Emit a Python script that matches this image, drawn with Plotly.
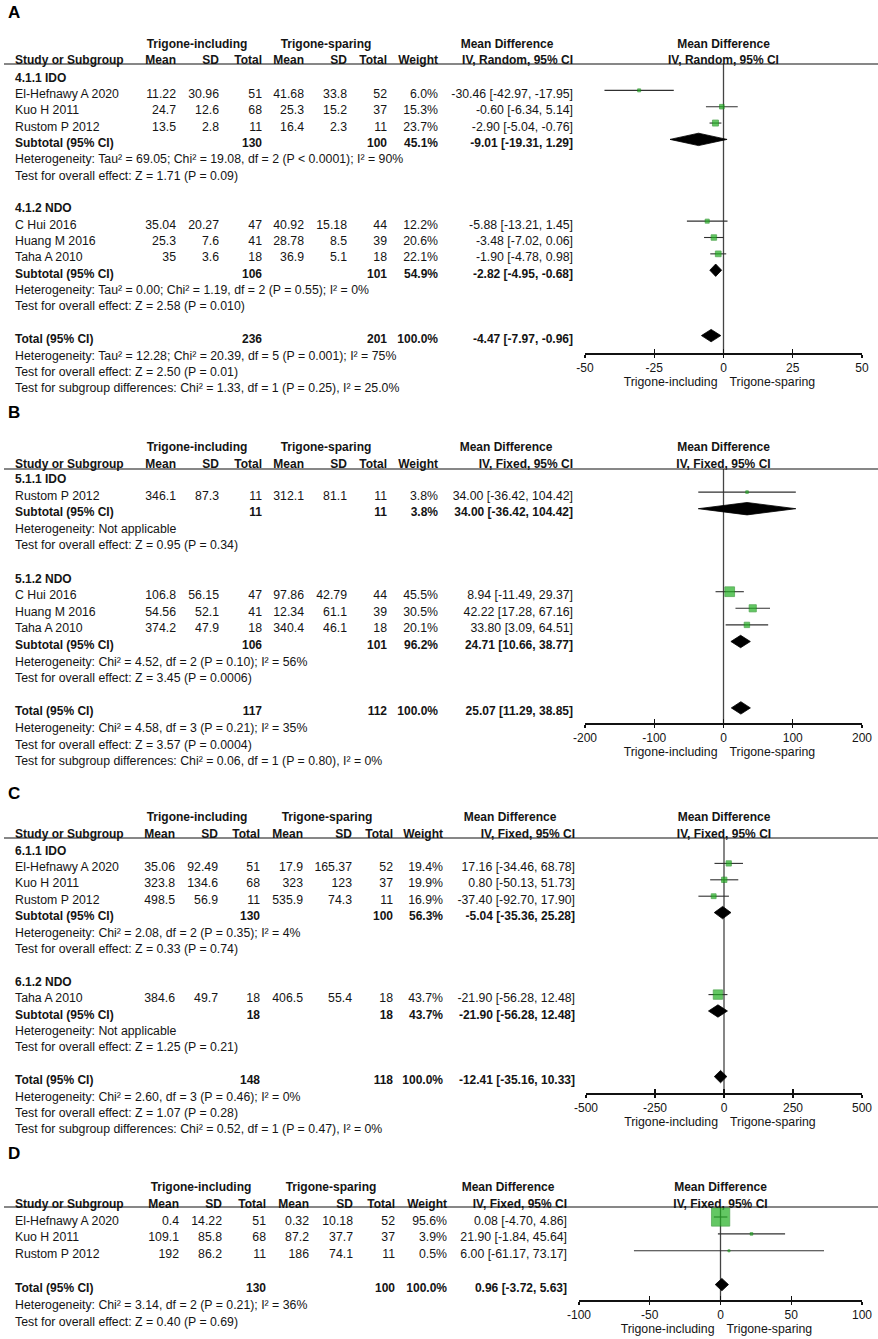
import plotly.graph_objects as go

W, H = 878, 1339
FONT = "Liberation Sans, Arial, Helvetica, sans-serif"
TXT = "#141414"
GREEN = "#22b022"
GREEN_EDGE = "#138813"
TEXT_DY = 2.0  # vertical nudge for text baseline alignment

# ================= DATA =================
# ---- Panel A ----
A_groups = ["4.1.1 IDO", "4.1.2 NDO"]
A_group_of = [0, 0, 0, 1, 1, 1]
A_study = ["El-Hefnawy A 2020", "Kuo H 2011", "Rustom P 2012", "C Hui 2016", "Huang M 2016", "Taha A 2010"]
A_m1 = [11.22, 24.7, 13.5, 35.04, 25.3, 35]
A_sd1 = [30.96, 12.6, 2.8, 20.27, 7.6, 3.6]
A_n1 = [51, 68, 11, 47, 41, 18]
A_m2 = [41.68, 25.3, 16.4, 40.92, 28.78, 36.9]
A_sd2 = [33.8, 15.2, 2.3, 15.18, 8.5, 5.1]
A_n2 = [52, 37, 11, 44, 39, 18]
A_w = [6.0, 15.3, 23.7, 12.2, 20.6, 22.1]
A_md = [-30.46, -0.60, -2.90, -5.88, -3.48, -1.90]
A_lo = [-42.97, -6.34, -5.04, -13.21, -7.02, -4.78]
A_hi = [-17.95, 5.14, -0.76, 1.45, 0.06, 0.98]
A_sub_n1 = [130, 106]
A_sub_n2 = [100, 101]
A_sub_w = [45.1, 54.9]
A_sub_md = [-9.01, -2.82]
A_sub_lo = [-19.31, -4.95]
A_sub_hi = [1.29, -0.68]
A_sub_het = ["Heterogeneity: Tau² = 69.05; Chi² = 19.08, df = 2 (P < 0.0001); I² = 90%",
             "Heterogeneity: Tau² = 0.00; Chi² = 1.19, df = 2 (P = 0.55); I² = 0%"]
A_sub_test = ["Test for overall effect: Z = 1.71 (P = 0.09)",
              "Test for overall effect: Z = 2.58 (P = 0.010)"]
A_tot_n1, A_tot_n2, A_tot_w = 236, 201, 100.0
A_tot_md, A_tot_lo, A_tot_hi = -4.47, -7.97, -0.96
A_tot_text = ["Heterogeneity: Tau² = 12.28; Chi² = 20.39, df = 5 (P = 0.001); I² = 75%",
              "Test for overall effect: Z = 2.50 (P = 0.01)",
              "Test for subgroup differences: Chi² = 1.33, df = 1 (P = 0.25), I² = 25.0%"]
A_ticks = [-50, -25, 0, 25, 50]
A_method = "IV, Random, 95% CI"

# ---- Panel B ----
B_groups = ["5.1.1 IDO", "5.1.2 NDO"]
B_group_of = [0, 1, 1, 1]
B_study = ["Rustom P 2012", "C Hui 2016", "Huang M 2016", "Taha A 2010"]
B_m1 = [346.1, 106.8, 54.56, 374.2]
B_sd1 = [87.3, 56.15, 52.1, 47.9]
B_n1 = [11, 47, 41, 18]
B_m2 = [312.1, 97.86, 12.34, 340.4]
B_sd2 = [81.1, 42.79, 61.1, 46.1]
B_n2 = [11, 44, 39, 18]
B_w = [3.8, 45.5, 30.5, 20.1]
B_md = [34.00, 8.94, 42.22, 33.80]
B_lo = [-36.42, -11.49, 17.28, 3.09]
B_hi = [104.42, 29.37, 67.16, 64.51]
B_sub_n1 = [11, 106]
B_sub_n2 = [11, 101]
B_sub_w = [3.8, 96.2]
B_sub_md = [34.00, 24.71]
B_sub_lo = [-36.42, 10.66]
B_sub_hi = [104.42, 38.77]
B_sub_het = ["Heterogeneity: Not applicable",
             "Heterogeneity: Chi² = 4.52, df = 2 (P = 0.10); I² = 56%"]
B_sub_test = ["Test for overall effect: Z = 0.95 (P = 0.34)",
              "Test for overall effect: Z = 3.45 (P = 0.0006)"]
B_tot_n1, B_tot_n2, B_tot_w = 117, 112, 100.0
B_tot_md, B_tot_lo, B_tot_hi = 25.07, 11.29, 38.85
B_tot_text = ["Heterogeneity: Chi² = 4.58, df = 3 (P = 0.21); I² = 35%",
              "Test for overall effect: Z = 3.57 (P = 0.0004)",
              "Test for subgroup differences: Chi² = 0.06, df = 1 (P = 0.80), I² = 0%"]
B_ticks = [-200, -100, 0, 100, 200]
B_method = "IV, Fixed, 95% CI"

# ---- Panel C ----
C_groups = ["6.1.1 IDO", "6.1.2 NDO"]
C_group_of = [0, 0, 0, 1]
C_study = ["El-Hefnawy A 2020", "Kuo H 2011", "Rustom P 2012", "Taha A 2010"]
C_m1 = [35.06, 323.8, 498.5, 384.6]
C_sd1 = [92.49, 134.6, 56.9, 49.7]
C_n1 = [51, 68, 11, 18]
C_m2 = [17.9, 323, 535.9, 406.5]
C_sd2 = [165.37, 123, 74.3, 55.4]
C_n2 = [52, 37, 11, 18]
C_w = [19.4, 19.9, 16.9, 43.7]
C_md = [17.16, 0.80, -37.40, -21.90]
C_lo = [-34.46, -50.13, -92.70, -56.28]
C_hi = [68.78, 51.73, 17.90, 12.48]
C_sub_n1 = [130, 18]
C_sub_n2 = [100, 18]
C_sub_w = [56.3, 43.7]
C_sub_md = [-5.04, -21.90]
C_sub_lo = [-35.36, -56.28]
C_sub_hi = [25.28, 12.48]
C_sub_het = ["Heterogeneity: Chi² = 2.08, df = 2 (P = 0.35); I² = 4%",
             "Heterogeneity: Not applicable"]
C_sub_test = ["Test for overall effect: Z = 0.33 (P = 0.74)",
              "Test for overall effect: Z = 1.25 (P = 0.21)"]
C_tot_n1, C_tot_n2, C_tot_w = 148, 118, 100.0
C_tot_md, C_tot_lo, C_tot_hi = -12.41, -35.16, 10.33
C_tot_text = ["Heterogeneity: Chi² = 2.60, df = 3 (P = 0.46); I² = 0%",
              "Test for overall effect: Z = 1.07 (P = 0.28)",
              "Test for subgroup differences: Chi² = 0.52, df = 1 (P = 0.47), I² = 0%"]
C_ticks = [-500, -250, 0, 250, 500]
C_method = "IV, Fixed, 95% CI"

# ---- Panel D ----
D_groups = []
D_group_of = [None, None, None]
D_study = ["El-Hefnawy A 2020", "Kuo H 2011", "Rustom P 2012"]
D_m1 = [0.4, 109.1, 192]
D_sd1 = [14.22, 85.8, 86.2]
D_n1 = [51, 68, 11]
D_m2 = [0.32, 87.2, 186]
D_sd2 = [10.18, 37.7, 74.1]
D_n2 = [52, 37, 11]
D_w = [95.6, 3.9, 0.5]
D_md = [0.08, 21.90, 6.00]
D_lo = [-4.70, -1.84, -61.17]
D_hi = [4.86, 45.64, 73.17]
D_tot_n1, D_tot_n2, D_tot_w = 130, 100, 100.0
D_tot_md, D_tot_lo, D_tot_hi = 0.96, -3.72, 5.63
D_tot_text = ["Heterogeneity: Chi² = 3.14, df = 2 (P = 0.21); I² = 36%",
              "Test for overall effect: Z = 0.40 (P = 0.69)"]
D_ticks = [-100, -50, 0, 50, 100]
D_method = "IV, Fixed, 95% CI"

# ================= LAYOUT (pixel positions) =================
COLS_AB = dict(study=15, m1=176, sd1=219, n1=262, m2=304, sd2=347, n2=387, w=438, md=573)
PANELS = [
    dict(letter="A", ly=13, h1=43, h2=59, line=64, y0=76.5, sp=16.35, cols=COLS_AB,
         c1=197, c2=326, mdh=507, fx=(585, 862), ay=353),
    dict(letter="B", ly=412, h1=446, h2=463, line=469, y0=478, sp=16.6, cols=COLS_AB,
         c1=197, c2=326, mdh=506, fx=(585, 862), ay=723),
    dict(letter="C", ly=793, h1=816, h2=833, line=838, y0=849.5, sp=16.4,
         cols=dict(study=15, m1=175, sd1=218, n1=260, m2=303, sd2=352, n2=393, w=443, md=575),
         c1=197, c2=327, mdh=510, fx=(586, 862), ay=1093),
    dict(letter="D", ly=1153, h1=1186, h2=1203, line=1207, y0=1219.5, sp=16.9,
         cols=dict(study=15, m1=179, sd1=222, n1=266, m2=309, sd2=353, n2=395, w=447, md=567),
         c1=201, c2=331, mdh=508, fx=(579, 862), ay=1300),
]


def pack(prefix):
    g = globals()
    d = {k: g[prefix + "_" + k] for k in
         ["groups", "group_of", "study", "m1", "sd1", "n1", "m2", "sd2", "n2", "w", "md", "lo", "hi",
          "tot_n1", "tot_n2", "tot_w", "tot_md", "tot_lo", "tot_hi", "tot_text", "ticks", "method"]}
    for k in ["sub_n1", "sub_n2", "sub_w", "sub_md", "sub_lo", "sub_hi", "sub_het", "sub_test"]:
        d[k] = g.get(prefix + "_" + k, [])
    return d


DATA = [pack(p) for p in "ABCD"]

fig = go.Figure()
texts = {}  # (align, bold) -> [xs, ys, strs]


def T(x, y, s, align="l", bold=False):
    key = (align, bold)
    texts.setdefault(key, [[], [], []])
    texts[key][0].append(x)
    texts[key][1].append(y + TEXT_DY)
    texts[key][2].append(s)


def mdtxt(m, l, h):
    return f"{m:.2f} [{l:.2f}, {h:.2f}]"


annotations = []
shapes = []
layout_axes = {}

for pi, (P, L) in enumerate(zip(DATA, PANELS)):
    ax_n = pi + 2
    ov_n = pi + 6
    xname = f"x{ax_n}"
    C = L["cols"]
    r0, r1 = P["ticks"][0], P["ticks"][-1]
    fx0, fx1 = L["fx"]
    zero_px = fx0 + (0 - r0) / (r1 - r0) * (fx1 - fx0)

    # panel letter
    annotations.append(dict(x=7 / W, y=1 - L["ly"] / H, xref="paper", yref="paper", text=f"<b>{L['letter']}</b>",
                            showarrow=False, xanchor="left", yanchor="middle", borderpad=0,
                            font=dict(family=FONT, size=17, color="#000")))
    # headers
    T(L["c1"], L["h1"], "Trigone-including", "c", True)
    T(L["c2"], L["h1"], "Trigone-sparing", "c", True)
    T(L["mdh"], L["h1"], "Mean Difference", "c", True)
    T(zero_px, L["h1"], "Mean Difference", "c", True)
    T(C["study"], L["h2"], "Study or Subgroup", "l", True)
    for col, lab in [("m1", "Mean"), ("sd1", "SD"), ("n1", "Total"), ("m2", "Mean"), ("sd2", "SD"),
                     ("n2", "Total"), ("w", "Weight"), ("md", P["method"])]:
        T(C[col], L["h2"], lab, "r", True)
    T(zero_px, L["h2"], P["method"], "c", True)
    shapes.append(dict(type="line", xref="paper", yref="paper", x0=4 / W, x1=1, y0=1 - L["line"] / H,
                       y1=1 - L["line"] / H, line=dict(color="#111", width=1.2)))

    # build rows
    rows = []
    if P["groups"]:
        for g in range(len(P["groups"])):
            rows.append(("group", g))
            for i, gg in enumerate(P["group_of"]):
                if gg == g:
                    rows.append(("study", i))
            rows.append(("sub", g))
            rows.append(("text", P["sub_het"][g]))
            rows.append(("text", P["sub_test"][g]))
            rows.append(("blank", None))
    else:
        for i in range(len(P["study"])):
            rows.append(("study", i))
        rows.append(("blank", None))
    rows.append(("total", None))
    for t in P["tot_text"]:
        rows.append(("text", t))

    ci_x, ci_y, sq_x, sq_y, sq_s = [], [], [], [], []
    diamonds = []
    for k, (kind, v) in enumerate(rows):
        y = L["y0"] + k * L["sp"]
        my = y - 2.5
        if kind == "group":
            T(C["study"], y, P["groups"][v], "l", True)
        elif kind == "text":
            T(C["study"], y, v, "l", False)
        elif kind == "study":
            i = v
            T(C["study"], y, P["study"][i], "l")
            for col in ["m1", "sd1", "n1", "m2", "sd2", "n2"]:
                T(C[col], y, str(P[col][i]), "r")
            T(C["w"], y, f"{P['w'][i]:.1f}%", "r")
            T(C["md"], y, mdtxt(P["md"][i], P["lo"][i], P["hi"][i]), "r")
            ci_x += [P["lo"][i], P["hi"][i], None]
            ci_y += [my, my, None]
            sq_x.append(P["md"][i])
            sq_y.append(my)
            sq_s.append(2 + 0.17 * P["w"][i])
        elif kind in ("sub", "total"):
            if kind == "sub":
                lab = "Subtotal (95% CI)"
                n1, n2, w = P["sub_n1"][v], P["sub_n2"][v], P["sub_w"][v]
                m, lo, hi = P["sub_md"][v], P["sub_lo"][v], P["sub_hi"][v]
            else:
                lab = "Total (95% CI)"
                n1, n2, w = P["tot_n1"], P["tot_n2"], P["tot_w"]
                m, lo, hi = P["tot_md"], P["tot_lo"], P["tot_hi"]
            T(C["study"], y, lab, "l", True)
            T(C["n1"], y, str(n1), "r", True)
            T(C["n2"], y, str(n2), "r", True)
            T(C["w"], y, f"{w:.1f}%", "r", True)
            T(C["md"], y, mdtxt(m, lo, hi), "r", True)
            diamonds.append((m, lo, hi, my))

    # zero line
    fig.add_trace(go.Scatter(x=[0, 0], y=[L["line"], L["ay"]], xaxis=xname, yaxis="y", mode="lines",
                             line=dict(color="#444", width=1.3), hoverinfo="skip", showlegend=False))
    # CI lines
    fig.add_trace(go.Scatter(x=ci_x, y=ci_y, xaxis=xname, yaxis="y", mode="lines",
                             line=dict(color="#303030", width=1.1), hoverinfo="skip", showlegend=False))
    # squares
    fig.add_trace(go.Scatter(x=sq_x, y=sq_y, xaxis=xname, yaxis="y", mode="markers",
                             marker=dict(symbol="square", size=sq_s, color=GREEN,
                                         line=dict(color=GREEN_EDGE, width=0.8)),
                             hoverinfo="skip", showlegend=False))
    # diamonds
    for (m, lo, hi, my) in diamonds:
        hh = 6.2
        fig.add_trace(go.Scatter(x=[lo, m, hi, m, lo], y=[my, my - hh, my, my + hh, my],
                                 xaxis=xname, yaxis="y", mode="lines", fill="toself",
                                 fillcolor="#000", line=dict(color="#000", width=0.8),
                                 hoverinfo="skip", showlegend=False))
    # dummy for overlay axis
    fig.add_trace(go.Scatter(x=[0], y=[-50], xaxis=f"x{ov_n}", yaxis="y", mode="markers",
                             marker=dict(opacity=0), hoverinfo="skip", showlegend=False))

    pos = 1 - L["ay"] / H
    base = dict(domain=[fx0 / W, fx1 / W], range=[r0, r1], anchor="free", position=pos,
                tickmode="array", tickvals=P["ticks"], showgrid=False, zeroline=False, fixedrange=True,
                automargin=False)
    layout_axes[f"xaxis{ax_n}"] = dict(base, ticktext=[str(t) for t in P["ticks"]], ticks="outside",
                                       ticklen=3, tickwidth=1.3, tickcolor="#111", showline=True,
                                       linecolor="#111", linewidth=1.6,
                                       tickfont=dict(family=FONT, size=12, color=TXT))
    layout_axes[f"xaxis{ov_n}"] = dict(base, overlaying=xname, ticks="inside", ticklen=4, tickwidth=1.3,
                                       tickcolor="#111", showticklabels=False, showline=False)

    # axis direction labels
    T(zero_px - 6, L["ay"] + 27.5, "Trigone-including", "r")
    T(zero_px + 6, L["ay"] + 27.5, "Trigone-sparing", "l")

pos_map = {"l": "middle right", "r": "middle left", "c": "middle center"}
for (align, bold), (xs, ys, ss) in texts.items():
    fig.add_trace(go.Scatter(x=xs, y=ys, text=ss, mode="text", xaxis="x", yaxis="y",
                             textposition=pos_map[align],
                             textfont=dict(family=FONT, size=12 if bold else 12.3, color=TXT,
                                           weight="bold" if bold else "normal"),
                             hoverinfo="skip", showlegend=False, cliponaxis=False))

fig.update_layout(
    width=W, height=H, margin=dict(l=0, r=0, t=0, b=0, pad=0, autoexpand=False),
    paper_bgcolor="white", plot_bgcolor="rgba(0,0,0,0)",
    xaxis=dict(domain=[0, 1], range=[0, W], visible=False, fixedrange=True, automargin=False),
    yaxis=dict(domain=[0, 1], range=[H, 0], visible=False, fixedrange=True, anchor="free", position=0,
               automargin=False),
    annotations=annotations, shapes=shapes, showlegend=False,
)
fig.update_layout(**layout_axes)

fig.write_html("out.html", config={"displayModeBar": False, "staticPlot": True},
               post_script="document.body.style.margin='0';document.body.style.padding='0';"
                           "document.documentElement.style.overflow='hidden';")
